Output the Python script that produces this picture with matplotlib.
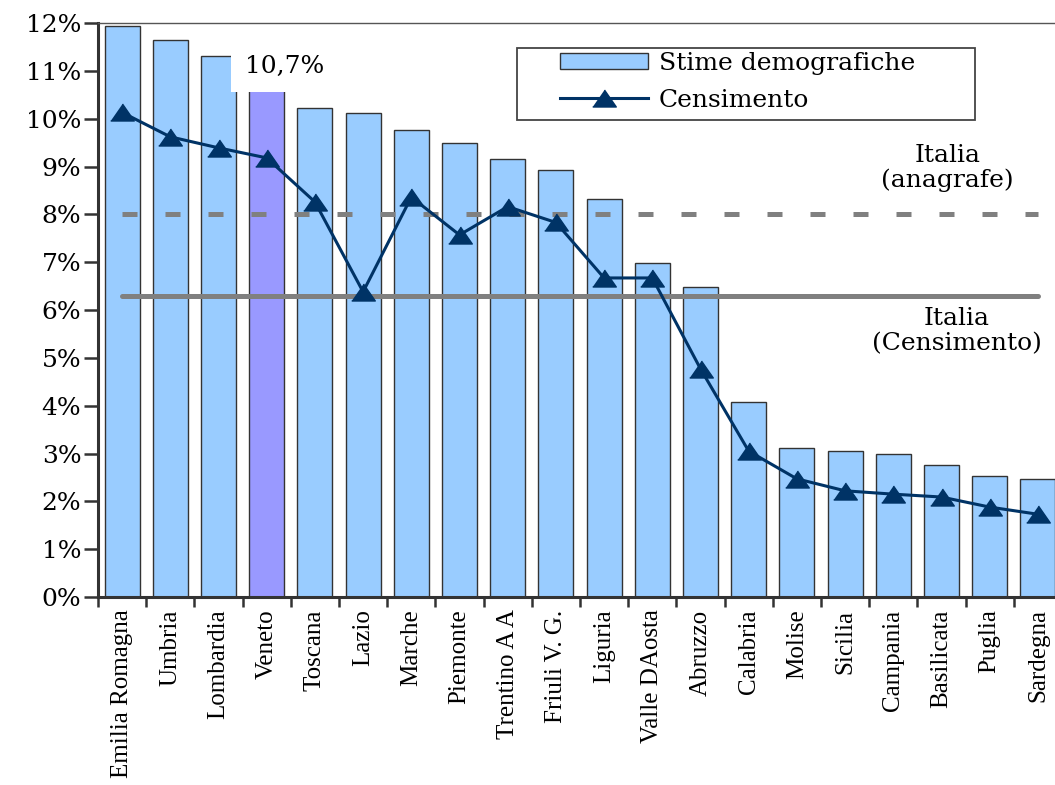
import matplotlib.pyplot as plt
from matplotlib.patches import Patch, Rectangle
from matplotlib.lines import Line2D

# Dati (valori in %)
regioni = ["Emilia Romagna", "Umbria", "Lombardia", "Veneto", "Toscana", "Lazio",
           "Marche", "Piemonte", "Trentino A A", "Friuli V. G.", "Liguria",
           "Valle DAosta", "Abruzzo", "Calabria", "Molise", "Sicilia",
           "Campania", "Basilicata", "Puglia", "Sardegna"]
stime = [11.93, 11.65, 11.3, 10.7, 10.22, 10.12, 9.76, 9.5, 9.16, 8.92,
         8.33, 6.98, 6.48, 4.07, 3.12, 3.05, 2.99, 2.75, 2.52, 2.46]
censimento = [10.13, 9.62, 9.39, 9.18, 8.26, 6.38, 8.36, 7.57, 8.16, 7.83,
              6.67, 6.67, 4.77, 3.05, 2.47, 2.22, 2.15, 2.09, 1.88, 1.73]
italia_anagrafe = 8.0
italia_censimento = 6.3
yticks = list(range(0, 13))

serif = "DejaVu Serif"
serif_x = "Liberation Serif"
blu = "#99CCFF"
viola = "#9999FF"
navy = "#003366"
grigio = "#808080"

fig = plt.figure(figsize=(10.55, 7.85), dpi=100)
ax = fig.add_axes([98 / 1055, 1 - 597 / 785, 964 / 1055, 574 / 785])

x = list(range(len(regioni)))
colori = [viola if r == "Veneto" else blu for r in regioni]
ax.bar(x, stime, width=0.73, color=colori, edgecolor="#333333", linewidth=1.0, zorder=2)

ax.plot([0, len(regioni) - 1], [italia_anagrafe] * 2, color=grigio, lw=3.6,
        dashes=(3, 5.6), zorder=3)
ax.plot([0, len(regioni) - 1], [italia_censimento] * 2, color=grigio, lw=3.6,
        solid_capstyle="round", zorder=3)

tri = [(-1, -0.72), (1, -0.72), (0, 0.72)]
ax.plot(x, censimento, color=navy, lw=2.2, marker=tri, markersize=17,
        markerfacecolor=navy, markeredgecolor=navy, zorder=4)

ax.set_xlim(-0.5, len(regioni) - 0.5)
ax.set_ylim(0, 12)
ax.set_yticks(yticks)
ax.set_yticklabels([f"{v}%" for v in yticks], fontsize=18, family=serif)
ax.tick_params(axis="y", direction="out", length=10, width=1.8, color="#333333", pad=2)

ax.set_xticks(x)
ax.set_xticklabels(regioni, rotation=90, fontsize=18, family=serif_x, va="top")
ax.tick_params(axis="x", which="major", length=0, pad=9)
ax.set_xticks([i - 0.5 for i in range(len(regioni) + 1)], minor=True)
ax.tick_params(axis="x", which="minor", direction="out", length=7, width=1.8, color="#333333")

for s in ["left", "bottom"]:
    ax.spines[s].set_linewidth(2.2)
    ax.spines[s].set_color("#333333")
ax.spines["top"].set_linewidth(1.0)
ax.spines["top"].set_color("#555555")
ax.spines["right"].set_visible(False)

ax.text(3.37, 11.1, "10,7%", fontsize=18, family=serif, ha="center", va="center",
        bbox=dict(facecolor="white", edgecolor="none", pad=10), zorder=5)
ax.text(17.13, 8.97, "Italia\n(anagrafe)", fontsize=18, family=serif,
        ha="center", va="center", linespacing=1.1, zorder=5)
ax.text(17.32, 5.56, "Italia\n(Censimento)", fontsize=18, family=serif,
        ha="center", va="center", linespacing=1.1, zorder=5)

# riquadro della legenda
fig.patches.append(Rectangle((517 / 1055, 1 - 120 / 785), 458 / 1055, 72 / 785,
                             transform=fig.transFigure, facecolor="white",
                             edgecolor="#444444", linewidth=1.3, zorder=5))
handles = [Patch(facecolor=blu, edgecolor="#333333", linewidth=1.0),
           Line2D([0], [0], color=navy, lw=2.2, marker=tri, markersize=17,
                  markerfacecolor=navy, markeredgecolor=navy)]
leg = fig.legend(handles, ["Stime demografiche", "Censimento"],
                 loc="upper left", bbox_to_anchor=(560 / 1055, 1 - 52 / 785),
                 prop={"family": serif, "size": 18}, frameon=False,
                 handlelength=3.5, handleheight=0.6, handletextpad=0.45,
                 borderpad=0, labelspacing=0.55, borderaxespad=0)
leg.set_zorder(6)

fig.savefig("out.png", dpi=100)
